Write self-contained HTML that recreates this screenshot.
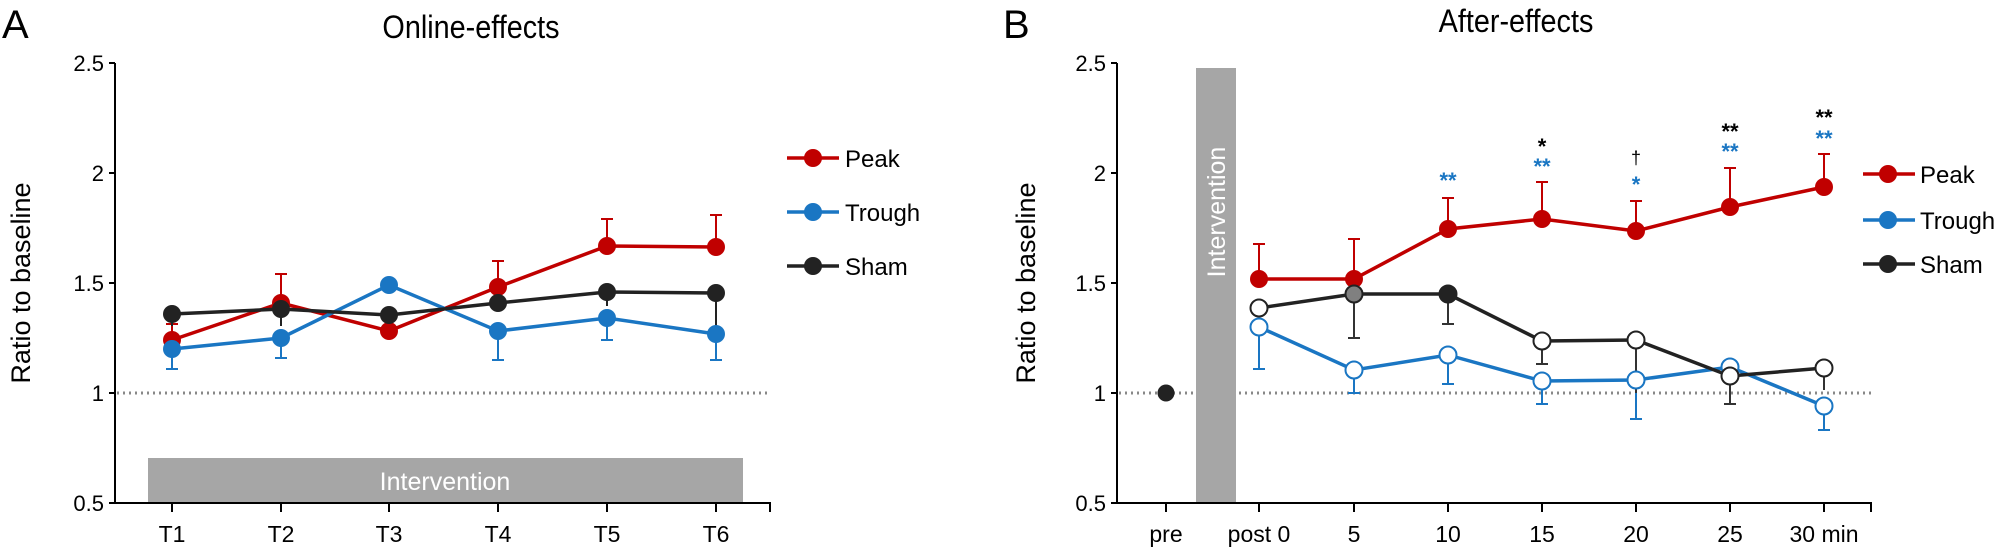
<!DOCTYPE html>
<html><head><meta charset="utf-8"><style>
html,body{margin:0;padding:0;background:#fff;}
svg{display:block;font-family:"Liberation Sans",Arial,sans-serif;}
</style></head><body>
<svg width="2007" height="550" viewBox="0 0 2007 550" xmlns="http://www.w3.org/2000/svg">
<!-- Panel A -->
<text x="2" y="38" font-size="40">A</text>
<text x="471" y="38" font-size="32" text-anchor="middle" transform="translate(471,0) scale(0.9,1) translate(-471,0)">Online-effects</text>
<text transform="translate(30,283) rotate(-90)" font-size="27" text-anchor="middle">Ratio to baseline</text>
<rect x="148" y="458" width="595" height="45" fill="#a6a6a6"/>
<text x="445" y="490" font-size="25" fill="#fff" text-anchor="middle">Intervention</text>
<g stroke="#000" stroke-width="2" fill="none">
<path d="M115,63 V503 H770 V512"/>
<path d="M109,63H115M109,173H115M109,283H115M109,393H115M109,503H115"/>
<path d="M172,503v9M281,503v9M389,503v9M498,503v9M607,503v9M716,503v9"/>
</g>
<g font-size="22" text-anchor="end">
<text x="104" y="71">2.5</text><text x="104" y="181">2</text><text x="104" y="291">1.5</text><text x="104" y="401">1</text><text x="104" y="511">0.5</text>
</g>
<g font-size="23" text-anchor="middle">
<text x="172" y="542">T1</text><text x="281" y="542">T2</text><text x="389" y="542">T3</text><text x="498" y="542">T4</text><text x="607" y="542">T5</text><text x="716" y="542">T6</text>
</g>
<line x1="117" y1="393" x2="770" y2="393" stroke="#888" stroke-width="3" stroke-dasharray="2,4"/>
<!-- error bars A -->
<g stroke="#c00000" stroke-width="2">
<path d="M172,340V324M166,324h12M281,303V274M275,274h12M498,287V261M492,261h12M607,246V219M601,219h12M716,247V215M710,215h12"/>
</g>
<g stroke="#1a76c3" stroke-width="2">
<path d="M172,349V369M166,369h12M281,338V358M275,358h12M498,331V360M492,360h12M607,318V340M601,340h12M716,334V360M710,360h12"/>
</g>
<g stroke="#222" stroke-width="2"><path d="M716,293V334M172,314V326M281,309V326M607,292V306"/></g>
<!-- lines A -->
<polyline fill="none" stroke="#c00000" stroke-width="3.5" points="172,340 281,303 389,331 498,287 607,246 716,247"/>
<polyline fill="none" stroke="#1a76c3" stroke-width="3.5" points="172,349 281,338 389,285 498,331 607,318 716,334"/>
<polyline fill="none" stroke="#222" stroke-width="3.5" points="172,314 281,309 389,315 498,303 607,292 716,293"/>
<g fill="#c00000"><circle cx="172" cy="340" r="9"/><circle cx="281" cy="303" r="9"/><circle cx="389" cy="331" r="9"/><circle cx="498" cy="287" r="9"/><circle cx="607" cy="246" r="9"/><circle cx="716" cy="247" r="9"/></g>
<g fill="#1a76c3"><circle cx="172" cy="349" r="9"/><circle cx="281" cy="338" r="9"/><circle cx="389" cy="285" r="9"/><circle cx="498" cy="331" r="9"/><circle cx="607" cy="318" r="9"/><circle cx="716" cy="334" r="9"/></g>
<g fill="#222"><circle cx="172" cy="314" r="9"/><circle cx="281" cy="309" r="9"/><circle cx="389" cy="315" r="9"/><circle cx="498" cy="303" r="9"/><circle cx="607" cy="292" r="9"/><circle cx="716" cy="293" r="9"/></g>
<!-- legend A -->
<g stroke-width="3.5"><line x1="787" y1="158" x2="839" y2="158" stroke="#c00000"/><line x1="787" y1="212" x2="839" y2="212" stroke="#1a76c3"/><line x1="787" y1="266" x2="839" y2="266" stroke="#222"/></g>
<circle cx="813" cy="158" r="9" fill="#c00000"/><circle cx="813" cy="212" r="9" fill="#1a76c3"/><circle cx="813" cy="266" r="9" fill="#222"/>
<g font-size="24"><text x="845" y="167">Peak</text><text x="845" y="221">Trough</text><text x="845" y="275">Sham</text></g>

<!-- Panel B -->
<text x="1003" y="38" font-size="40">B</text>
<text x="1516" y="32" font-size="32" text-anchor="middle" transform="translate(1516,0) scale(0.9,1) translate(-1516,0)">After-effects</text>
<text transform="translate(1035,283) rotate(-90)" font-size="27" text-anchor="middle">Ratio to baseline</text>
<line x1="1119" y1="393" x2="1871" y2="393" stroke="#888" stroke-width="3" stroke-dasharray="2,4"/>
<rect x="1196" y="68" width="40" height="435" fill="#a6a6a6"/>
<text transform="translate(1225,212) rotate(-90)" font-size="25" fill="#fff" text-anchor="middle">Intervention</text>
<g stroke="#000" stroke-width="2" fill="none">
<path d="M1117,63 V503 H1871 V512"/>
<path d="M1111,63H1117M1111,173H1117M1111,283H1117M1111,393H1117M1111,503H1117"/>
<path d="M1166,503v9M1259,503v9M1354,503v9M1448,503v9M1542,503v9M1636,503v9M1730,503v9M1824,503v9"/>
</g>
<g font-size="22" text-anchor="end">
<text x="1106" y="71">2.5</text><text x="1106" y="181">2</text><text x="1106" y="291">1.5</text><text x="1106" y="401">1</text><text x="1106" y="511">0.5</text>
</g>
<g font-size="23" text-anchor="middle">
<text x="1166" y="542">pre</text><text x="1259" y="542">post 0</text><text x="1354" y="542">5</text><text x="1448" y="542">10</text><text x="1542" y="542">15</text><text x="1636" y="542">20</text><text x="1730" y="542">25</text><text x="1824" y="542">30 min</text>
</g>
<!-- error bars B -->
<g stroke="#c00000" stroke-width="2">
<path d="M1259,279V244M1253,244h12M1354,279V239M1348,239h12M1448,229V198M1442,198h12M1542,219V182M1536,182h12M1636,231V201M1630,201h12M1730,207V168M1724,168h12M1824,187V154M1818,154h12"/>
</g>
<g stroke="#1a76c3" stroke-width="2">
<path d="M1259,327V369M1253,369h12M1354,370V393M1348,393h12M1448,355V384M1442,384h12M1542,381V404M1536,404h12M1636,380V419M1630,419h12M1824,406V430M1818,430h12"/>
</g>
<g stroke="#333" stroke-width="2">
<path d="M1354,294V338M1348,338h12M1448,294V324M1442,324h12M1542,341V364M1536,364h12M1636,339V393M1730,376V404M1724,404h12M1824,368V390"/>
</g>
<polyline fill="none" stroke="#c00000" stroke-width="3.5" points="1259,279 1354,279 1448,229 1542,219 1636,231 1730,207 1824,187"/>
<polyline fill="none" stroke="#1a76c3" stroke-width="3.5" points="1259,327 1354,370 1448,355 1542,381 1636,380 1730,367 1824,406"/>
<polyline fill="none" stroke="#222" stroke-width="3.5" points="1259,308 1354,294 1448,294 1542,341 1636,340 1730,376 1824,368"/>
<g fill="#c00000"><circle cx="1259" cy="279" r="9"/><circle cx="1354" cy="279" r="9"/><circle cx="1448" cy="229" r="9"/><circle cx="1542" cy="219" r="9"/><circle cx="1636" cy="231" r="9"/><circle cx="1730" cy="207" r="9"/><circle cx="1824" cy="187" r="9"/></g>
<g fill="#fff" stroke="#1a76c3" stroke-width="2"><circle cx="1259" cy="327" r="8.5"/><circle cx="1354" cy="370" r="8.5"/><circle cx="1448" cy="355" r="8.5"/><circle cx="1542" cy="381" r="8.5"/><circle cx="1636" cy="380" r="8.5"/><circle cx="1730" cy="367" r="8.5"/><circle cx="1824" cy="406" r="8.5"/></g>
<g fill="#fff" stroke="#222" stroke-width="2"><circle cx="1259" cy="308" r="8.5"/><circle cx="1354" cy="294" r="8.5" fill="#808080"/><circle cx="1448" cy="294" r="8.5" fill="#222"/><circle cx="1542" cy="341" r="8.5"/><circle cx="1636" cy="340" r="8.5"/><circle cx="1730" cy="376" r="8.5"/><circle cx="1824" cy="368" r="8.5"/></g>
<circle cx="1166" cy="393" r="8.5" fill="#222"/>
<!-- significance -->
<g font-size="22" text-anchor="middle" font-weight="bold">
<text x="1448" y="188" fill="#1a76c3">**</text>
<text x="1542" y="154" fill="#000">*</text><text x="1542" y="174" fill="#1a76c3">**</text>
<text x="1636" y="164" fill="#000" font-weight="normal" font-size="18">†</text><text x="1636" y="192" fill="#1a76c3">*</text>
<text x="1730" y="139" fill="#000">**</text><text x="1730" y="159" fill="#1a76c3">**</text>
<text x="1824" y="125" fill="#000">**</text><text x="1824" y="146" fill="#1a76c3">**</text>
</g>
<!-- legend B -->
<g stroke-width="3.5"><line x1="1863" y1="174" x2="1915" y2="174" stroke="#c00000"/><line x1="1863" y1="220" x2="1915" y2="220" stroke="#1a76c3"/><line x1="1863" y1="264" x2="1915" y2="264" stroke="#222"/></g>
<circle cx="1888" cy="174" r="9" fill="#c00000"/><circle cx="1888" cy="220" r="9" fill="#1a76c3"/><circle cx="1888" cy="264" r="9" fill="#222"/>
<g font-size="24"><text x="1920" y="183">Peak</text><text x="1920" y="229">Trough</text><text x="1920" y="273">Sham</text></g>
</svg>
</body></html>
